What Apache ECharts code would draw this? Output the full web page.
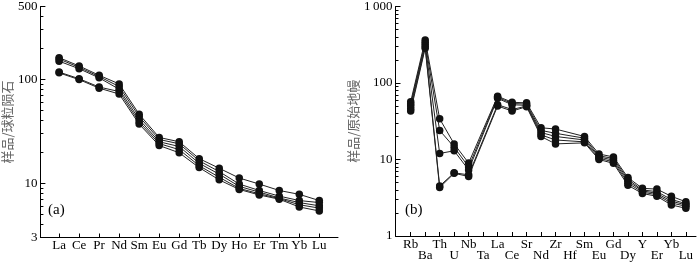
<!DOCTYPE html>
<html><head><meta charset="utf-8">
<script src="https://cdn.jsdelivr.net/npm/echarts@6/dist/echarts.min.js"></script>
<style>html,body{margin:0;padding:0;background:#fff}#c{width:700px;height:264px}</style>
</head><body><div id="c"></div>
<script>
// ---- (a) chondrite-normalised REE ----
const reeCategories = ['La','Ce','Pr','Nd','Sm','Eu','Gd','Tb','Dy','Ho','Er','Tm','Yb','Lu'];
const reeS1 = [161, 134, 109, 90, 46, 27.5, 25, 17.2, 13.9, 11.2, 9.8, 8.5, 7.8, 6.8];
const reeS2 = [156, 130, 106, 85, 43.7, 26.3, 23.9, 16.4, 12.9, 9.8, 8.5, 7.5, 6.8, 6.5];
const reeS3 = [149, 126, 103, 80, 41, 25, 22.5, 15.5, 12.2, 9.3, 8.2, 7.2, 6.5, 6.05];
const reeS4 = [117, 101, 84, 76, 38.8, 24, 21, 14.7, 11.4, 8.9, 7.9, 7.1, 6.2, 5.75];
const reeS5 = [115, 99, 82, 72, 37, 23, 19.6, 14.1, 10.75, 8.7, 7.7, 7.0, 5.9, 5.4];
const reeYTickLabels = [3, 10, 100, 500];
const reeYMinorTicks = [4,5,6,7,8,9,20,30,40,50,60,70,80,90,200,300,400];

// ---- (b) primitive-mantle-normalised trace elements ----
const traceCategories = ['Rb','Ba','Th','U','Nb','Ta','La','Ce','Sr','Nd','Zr','Hf','Sm','Eu','Gd','Dy','Y','Er','Yb','Lu'];
const traceS1 = [57, 365, 34, 16, 9, null, 67, 56, 55, 26, 25, null, 20, 11.8, 10.8, 5.8, 4.2, 4.1, 3.3, 2.8];
const traceS2 = [53, 340, 24, 14.5, 8, null, 65, 54, 53, 24, 22, null, 19, 11.2, 10.3, 5.5, 4.0, 3.8, 3.0, 2.65];
const traceS3 = [50, 320, 12, 13, 7.3, null, 63, 52, 51, 22.5, 20, null, 18, 10.8, 9.8, 5.2, 3.9, 3.6, 2.85, 2.55];
const traceS4 = [46, 300, 4.5, 6.7, 6.3, null, 52, 45, 50, 21, 18, null, 17, 10.4, 9.3, 4.9, 3.75, 3.45, 2.7, 2.45];
const traceS5 = [43, 285, 4.3, 6.6, 6.0, null, 50, 43, 49, 20, 16, null, 16.5, 10, 8.9, 4.6, 3.6, 3.3, 2.55, 2.3];
const traceYTickLabels = [1, 10, 100, 1000];
const traceYMinorTicks = [2,3,4,5,6,7,8,9,20,30,40,50,60,70,80,90,200,300,400,500,600,700,800,900];

const SERIF = '"Liberation Serif", "Times New Roman", serif';
const chart = echarts.init(document.getElementById('c'));

function idx(arr){ return arr.map((_, i) => i); }
function pairs(arr){ return arr.map((v, i) => [i, v]); }
function fmtNum(v){ const r = Math.round(v); return r === 1000 ? '1\u2009000' : String(r); }
const traceIdx = idx(traceCategories);
const traceEven = traceIdx.filter(i => i % 2 === 0);
const traceOdd = traceIdx.filter(i => i % 2 === 1);

function mkSeries(values, xi, yi){
  return {
    type: 'line', xAxisIndex: xi, yAxisIndex: yi,
    data: pairs(values), connectNulls: true,
    symbol: 'circle', symbolSize: 7.5, showSymbol: true,
    itemStyle: {color: '#111'},
    lineStyle: {color: '#222', width: 1},
    emphasis: {disabled: true}, z: 3
  };
}

function mainY(gi, min, max, labels, majors, name, nameGap){
  return {
    type: 'log', gridIndex: gi, min: min, max: max, position: 'left',
    axisLine: {show: true, onZero: false, lineStyle: {color: '#000', width: 1}},
    axisTick: {show: true, inside: true, length: 5, customValues: majors, lineStyle: {color: '#000'}},
    axisLabel: {customValues: labels, formatter: fmtNum, margin: 3, color: '#000', fontFamily: SERIF, fontSize: 13,
                showMinLabel: true, showMaxLabel: true},
    splitLine: {show: false},
    name: name, nameLocation: 'middle', nameGap: nameGap,
    nameTextStyle: {fontFamily: '"Noto Sans CJK SC"', fontSize: 13, color: '#666'}
  };
}
function minorY(gi, min, max, minors){
  return {
    type: 'log', gridIndex: gi, min: min, max: max, position: 'left', offset: 0,
    axisLine: {show: false, onZero: false},
    axisTick: {show: true, inside: true, length: 3, customValues: minors, lineStyle: {color: '#000'}},
    axisLabel: {show: false},
    splitLine: {show: false}
  };
}
function traceLabel(v){ return traceCategories[Math.round(v)] || ''; }

const option = {
  animation: false,
  backgroundColor: '#fff',
  grid: [
    {left: 36, right: 362, top: 2, bottom: 26.5},
    {left: 395.5, right: 4, top: 3.5, bottom: 28}
  ],
  xAxis: [
    {
      type: 'value', gridIndex: 0, min: -0.935, max: 13.935, position: 'bottom',
      axisLine: {onZero: false, lineStyle: {color: '#000', width: 1}},
      axisTick: {inside: true, length: 4, customValues: idx(reeCategories), lineStyle: {color: '#000'}},
      axisLabel: {customValues: idx(reeCategories), formatter: v => reeCategories[Math.round(v)] || '',
                  showMinLabel: true, showMaxLabel: true,
                  margin: 2, color: '#000', fontFamily: SERIF, fontSize: 13},
      splitLine: {show: false}
    },
    {
      type: 'value', gridIndex: 1, min: -1.05, max: 19.7, position: 'bottom',
      axisLine: {onZero: false, lineStyle: {color: '#000', width: 1}},
      axisTick: {inside: true, length: 4, customValues: traceIdx, lineStyle: {color: '#000'}},
      axisLabel: {customValues: traceEven, formatter: traceLabel,
                  showMinLabel: true, showMaxLabel: true,
                  margin: 2, color: '#000', fontFamily: SERIF, fontSize: 13},
      splitLine: {show: false}
    },
    {
      type: 'value', gridIndex: 1, min: -1.05, max: 19.7, position: 'bottom', offset: 0,
      axisLine: {show: false, onZero: false},
      axisTick: {show: false},
      axisLabel: {customValues: traceOdd, formatter: traceLabel,
                  showMinLabel: true, showMaxLabel: true,
                  margin: 13.5, color: '#000', fontFamily: SERIF, fontSize: 13},
      splitLine: {show: false}
    }
  ],
  yAxis: [
    mainY(0, 3, 500, reeYTickLabels, [10, 100, 500], '样品/球粒陨石', 17),
    minorY(0, 3, 500, reeYMinorTicks),
    mainY(1, 1, 1000, traceYTickLabels, [10, 100, 1000], '样品/原始地幔', 30),
    minorY(1, 1, 1000, traceYMinorTicks)
  ],
  graphic: [
    {type: 'text', left: 48, top: 203, style: {text: '(a)', font: '15px ' + SERIF, fill: '#000'}},
    {type: 'text', left: 405, top: 203, style: {text: '(b)', font: '15px ' + SERIF, fill: '#000'}}
  ],
  series: [
    mkSeries(reeS1, 0, 0), mkSeries(reeS2, 0, 0), mkSeries(reeS3, 0, 0), mkSeries(reeS4, 0, 0), mkSeries(reeS5, 0, 0),
    mkSeries(traceS1, 1, 2), mkSeries(traceS2, 1, 2), mkSeries(traceS3, 1, 2), mkSeries(traceS4, 1, 2), mkSeries(traceS5, 1, 2)
  ]
};
chart.setOption(option);
</script>
</body></html>
